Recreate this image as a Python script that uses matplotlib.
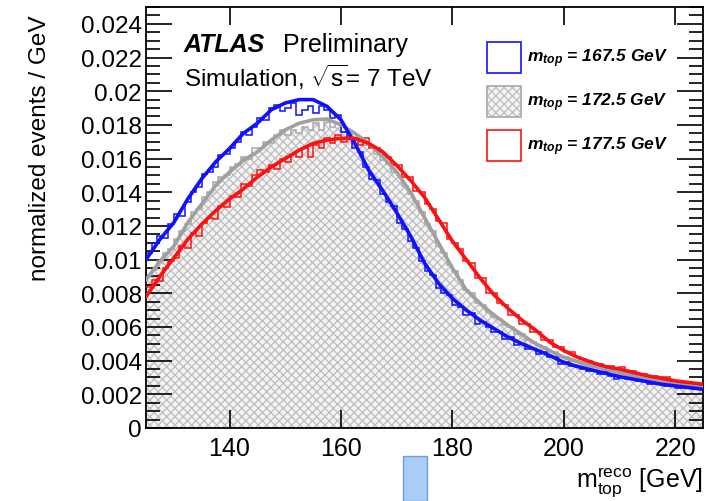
import numpy as np
import matplotlib
matplotlib.use("Agg")
import matplotlib.pyplot as plt
from matplotlib.patches import Rectangle
from matplotlib.ticker import FixedLocator, FuncFormatter

plt.rcParams["font.family"] = ["Liberation Sans", "DejaVu Sans"]
plt.rcParams["hatch.linewidth"] = 0.9
plt.rcParams["mathtext.fontset"] = "custom"
plt.rcParams["mathtext.rm"] = "Liberation Sans"
plt.rcParams["mathtext.it"] = "Liberation Sans:italic"
plt.rcParams["mathtext.bf"] = "Liberation Sans:bold:italic"

# --- data, values in units of 1e-4 events / GeV ---
bin_edges = np.arange(125, 226, 1)

hist_167 = [104, 110, 114, 113, 121, 127, 126, 134, 140, 143, 151, 152, 155, 162, 163, 166, 170, 176, 174, 179,
            184, 183, 190, 192, 188, 190, 193, 186, 189, 191, 187, 191, 189, 184, 186, 176, 172, 166, 164, 155,
            148, 147, 139, 134, 132, 122, 118, 111, 107, 99, 93, 91, 83, 80, 79, 73, 72, 67, 68, 62,
            63, 60, 57, 57, 53, 54, 49, 50, 47, 47, 44, 45, 42, 42, 38, 39, 37, 36, 35, 34,
            34, 32, 33, 31, 29, 30, 29, 29, 28, 28, 26, 27, 26, 25, 25, 24, 24, 24, 23, 23]

hist_172 = [91, 94, 99, 104, 106, 112, 117, 121, 128, 130, 137, 140, 146, 149, 150, 155, 157, 161, 160, 166,
            166, 170, 169, 174, 177, 174, 177, 175, 179, 177, 181, 177, 182, 179, 181, 176, 176, 172, 172, 168,
            167, 163, 159, 157, 152, 150, 144, 139, 135, 128, 121, 117, 108, 104, 97, 93, 88, 82, 80, 74,
            73, 69, 66, 65, 61, 60, 56, 56, 52, 51, 49, 48, 45, 45, 42, 42, 40, 39, 38, 37,
            36, 36, 34, 34, 33, 32, 32, 30, 30, 29, 29, 28, 27, 27, 26, 26, 25, 25, 24, 24]

hist_177 = [84, 88, 87, 95, 99, 101, 108, 107, 116, 114, 122, 125, 124, 132, 131, 138, 137, 145, 144, 150,
            153, 152, 156, 154, 160, 158, 163, 161, 166, 161, 168, 166, 172, 169, 174, 170, 173, 171, 168, 172,
            166, 166, 162, 161, 156, 156, 149, 149, 141, 140, 133, 130, 123, 122, 112, 110, 106, 99, 98, 89,
            89, 80, 80, 74, 73, 67, 67, 62, 62, 57, 57, 52, 52, 48, 48, 45, 45, 42, 41, 40,
            38, 38, 36, 37, 35, 36, 33, 34, 32, 32, 31, 31, 30, 30, 28, 28, 27, 27, 26, 26]

# fit curves sampled every 2.5 GeV
fit_x = np.arange(125, 225.1, 2.5)
fit_167 = [100, 112, 122, 136, 148, 158, 166, 175, 181, 189, 193, 195, 195, 191, 183, 169, 153, 141, 128, 114,
           98, 86, 77, 70, 64, 59, 54, 50, 46.5, 43, 39, 36.5, 34.5, 32.5, 30.5, 29, 27.5, 26, 25, 24, 23]
fit_172 = [88, 99, 108, 122, 133, 144, 152, 159, 164, 171, 177, 181, 183, 183.5, 180, 175, 169, 161, 152, 140,
           125, 110, 95, 82, 74, 67, 61, 55.5, 50, 46, 42, 39.5, 37, 35, 33, 31, 29, 27.5, 26, 25, 24]
fit_177 = [78, 90, 101, 112, 121, 129, 136, 142, 149, 155, 160, 165, 169, 171, 172, 172, 169, 164, 156, 147,
           137, 124, 111, 100, 89, 79, 71, 64, 58, 51, 46, 42, 39, 36.5, 35, 33, 31, 29.5, 28, 27, 26]

scale = 1e-4
blue = "#1010ff"
red = "#ff1010"
grey = "#a0a0a0"
fill_face = "#f4f4f4"
fill_hatch = "#bdbdbd"

fig = plt.figure(figsize=(7.08, 5.02), dpi=100)
ax = fig.add_axes([146 / 708, 73 / 502, 557 / 708, 421 / 502])

# filled reference sample
ax.stairs(np.array(hist_172) * scale, bin_edges, fill=True, facecolor=fill_face,
          edgecolor=fill_hatch, hatch="xxxx", linewidth=0, zorder=1)
ax.stairs(np.array(hist_172) * scale, bin_edges, baseline=None, color="#a8a8a8", linewidth=1.1, zorder=2)
ax.stairs(np.array(hist_167) * scale, bin_edges, baseline=None, color=blue, linewidth=1.1, zorder=3)
ax.stairs(np.array(hist_177) * scale, bin_edges, baseline=None, color=red, linewidth=1.1, zorder=3)

ax.plot(fit_x, np.array(fit_172) * scale, color=grey, linewidth=2.6, zorder=4)
ax.plot(fit_x, np.array(fit_167) * scale, color=blue, linewidth=2.6, zorder=5)
ax.plot(fit_x, np.array(fit_177) * scale, color=red, linewidth=2.6, zorder=5)

ax.set_xlim(125, 225)
ax.set_ylim(0, 0.025)

ax.xaxis.set_major_locator(FixedLocator([140, 160, 180, 200, 220]))
ax.yaxis.set_major_locator(FixedLocator([i * 0.002 for i in range(13)]))
ax.yaxis.set_minor_locator(FixedLocator([i * 0.0005 for i in range(51)]))
ax.yaxis.set_major_formatter(FuncFormatter(lambda v, p: "%g" % round(v, 4)))

ax.tick_params(axis="both", which="both", direction="in", top=True, right=True, color="black", width=1.2)
ax.tick_params(axis="x", which="major", length=13, labelsize=18, pad=6)
ax.tick_params(axis="y", which="major", length=19, labelsize=17.5, pad=3)
ax.tick_params(axis="y", which="minor", length=10)
for s in ax.spines.values():
    s.set_linewidth(1.3)

fig.text(0.057, 0.705, "normalized events / GeV", rotation=90, fontsize=17.5, ha="center", va="center")
fig.text(703 / 708, 14 / 502, r"$\mathrm{m}_{\mathrm{top}}^{\mathrm{reco}}$ [GeV]", fontsize=18,
         ha="right", va="baseline")

ax.text(0.068, 0.913, "ATLAS", transform=ax.transAxes, fontsize=18, fontweight="bold",
        fontstyle="italic", va="center")
ax.text(0.246, 0.913, "Preliminary", transform=ax.transAxes, fontsize=18, va="center")
ax.text(0.068, 0.835, r"Simulation, $\sqrt{\mathrm{s}}$= 7 TeV", transform=ax.transAxes, fontsize=17.5,
        va="center")

# legend, drawn by hand to keep the ROOT look
leg_labels = ["167.5", "172.5", "177.5"]
leg_colors = [blue, None, red]
for i, (lab, col) in enumerate(zip(leg_labels, leg_colors)):
    y0 = (502 - 73 - 1) / 502 - i * 44 / 502
    x0 = 487 / 708
    w, h = 34 / 708, 31 / 502
    if col is None:
        fig.patches.append(Rectangle((x0, y0), w, h, transform=fig.transFigure, facecolor=fill_face,
                                     edgecolor=fill_hatch, hatch="xxxx", linewidth=0))
        fig.patches.append(Rectangle((x0, y0), w, h, transform=fig.transFigure, fill=False,
                                     edgecolor="#a8a8a8", linewidth=1.2))
    else:
        fig.patches.append(Rectangle((x0, y0), w, h, transform=fig.transFigure, facecolor="white",
                                     edgecolor=col, linewidth=1.2))
    fig.text(527 / 708, y0 + h / 2, r"$\mathbf{m_{top}}$" + " = %s GeV" % lab, fontsize=12.5,
             fontweight="bold", fontstyle="italic", va="center")

# stray light-blue marker below the axis
fig.patches.append(Rectangle((403 / 708, 0), 24 / 708, 45 / 502, transform=fig.transFigure,
                             facecolor="#a9cdf5", edgecolor="#6f9fd6", linewidth=1.0))

fig.savefig("out.png", dpi=100)
